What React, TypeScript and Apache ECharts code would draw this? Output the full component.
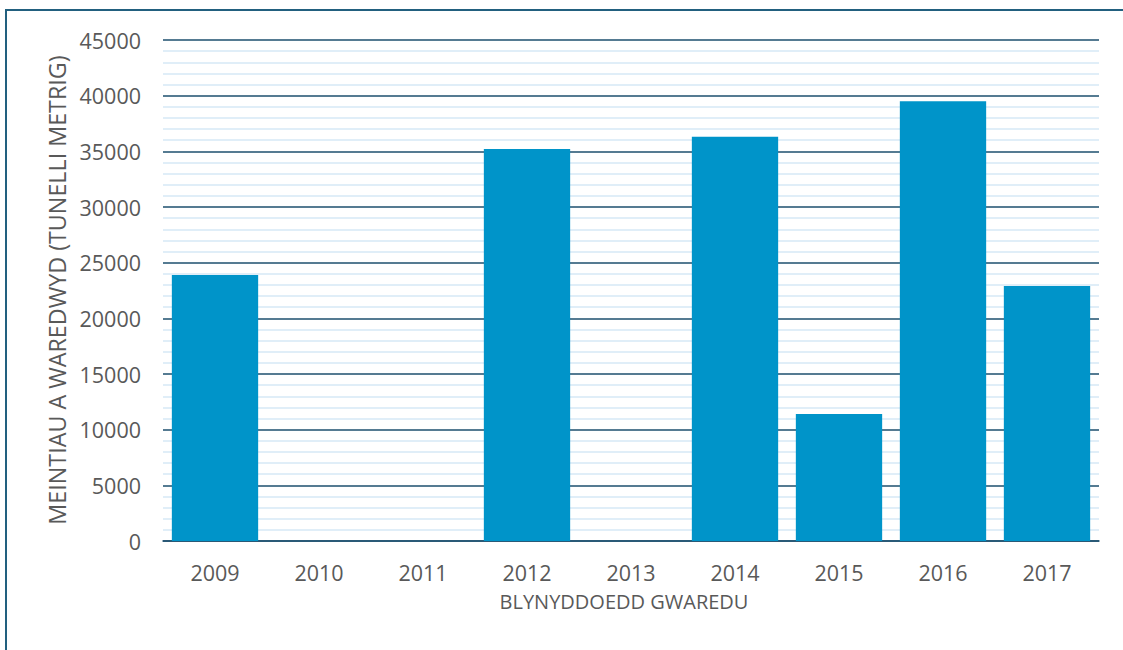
import React, { useEffect, useRef } from "react";
import * as echarts from "echarts";

const categories = ["2009", "2010", "2011", "2012", "2013", "2014", "2015", "2016", "2017"];
const disposedQuantities = [23900, 0, 0, 35200, 0, 36300, 11400, 39500, 22900];
const yTitle = "MEINTIAU A WAREDWYD (TUNELLI METRIG)";
const xTitle = "BLYNYDDOEDD GWAREDU";

const FONT = "'Open Sans', 'Noto Sans', sans-serif";
const TEXT = "#595959";

export default function App() {
  const ref = useRef<HTMLDivElement>(null);
  useEffect(() => {
    if (!ref.current) return;
    const chart = echarts.init(ref.current, undefined, { renderer: "svg" });
    chart.setOption({
      animation: false,
      backgroundColor: "#ffffff",
      grid: { left: 163, right: 24, top: 40, bottom: 109, containLabel: false },
      xAxis: {
        type: "category",
        data: categories,
        axisLine: { show: true, lineStyle: { color: "#1d4f6e", width: 1.5 } },
        axisTick: { show: false },
        axisLabel: {
          color: TEXT,
          fontFamily: FONT,
          fontSize: 21.5,
          lineHeight: 18,
          margin: 22,
        },
        splitLine: { show: false },
      },
      yAxis: {
        type: "value",
        min: 0,
        max: 45000,
        interval: 5000,
        axisLine: { show: false },
        axisTick: { show: false },
        axisLabel: {
          color: TEXT,
          fontFamily: FONT,
          fontSize: 21.5,
          margin: 22,
          formatter: (v: number) => String(v),
        },
        splitLine: { show: true, lineStyle: { color: "#1d4f6e", width: 1.5 } },
        minorTick: { show: false, splitNumber: 5 },
        minorSplitLine: { show: true, lineStyle: { color: "#d6e9f6", width: 1.5 } },
      },
      series: [
        {
          type: "bar",
          data: disposedQuantities,
          barCategoryGap: "17%",
          itemStyle: { color: "#0094c9" },
        },
      ],
      graphic: [
        {
          type: "rect",
          shape: { x: 6, y: 10, width: 1300, height: 800 },
          style: { fill: "none", stroke: "#22607f", lineWidth: 2 },
          silent: true,
        },
        {
          type: "text",
          x: 57,
          y: 290,
          rotation: Math.PI / 2,
          style: {
            text: yTitle,
            fill: TEXT,
            font: `23.3px ${FONT}`,
            align: "center",
            verticalAlign: "middle",
          },
        },
        {
          type: "text",
          x: 624,
          y: 601,
          style: {
            text: xTitle,
            fill: TEXT,
            font: `20px ${FONT}`,
            lineHeight: 18,
            align: "center",
            verticalAlign: "middle",
          },
        },
      ],
    });
    return () => chart.dispose();
  }, []);
  return (
    <div
      ref={ref}
      style={{ position: "fixed", left: 0, top: 0, width: 1123, height: 650 }}
    />
  );
}
